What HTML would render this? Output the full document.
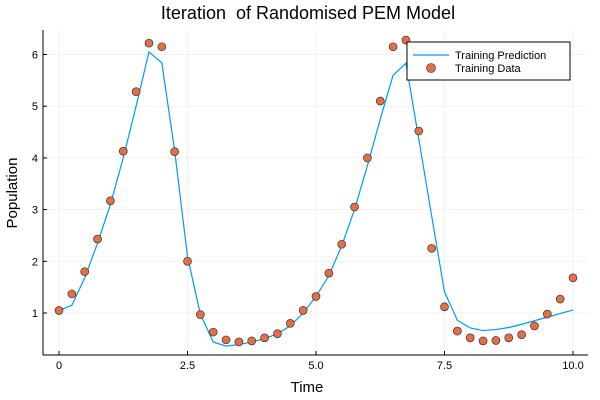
<!DOCTYPE html>
<html><head><meta charset="utf-8"><style>
body{margin:0;background:#fff;}
svg{display:block;font-family:"Liberation Sans","DejaVu Sans",sans-serif;}
</style></head><body>
<svg id="chart" width="600" height="400">
<text x="308" y="19" font-size="18" text-anchor="middle" fill="#000" style="white-space:pre">Iteration  of Randomised PEM Model</text>
<g id="grid"></g><g id="axes"></g><g id="series"></g>
<text x="307" y="392" font-size="15" text-anchor="middle">Time</text>
<text x="17" y="193" font-size="15" text-anchor="middle" transform="rotate(-90 17 193)">Population</text>
<g>
<rect x="407" y="42" width="163" height="38" fill="#fff" stroke="#000" stroke-width="1"/>
<line x1="413" y1="55" x2="449" y2="55" stroke="#009af9" stroke-width="1.2"/>
<text x="455" y="59" font-size="11">Training Prediction</text>
<circle cx="431" cy="68" r="4.5" fill="#e26f46" stroke="#222" stroke-width="0.6"/>
<text x="455" y="72" font-size="11">Training Data</text>
</g>
</svg>
<script>
const times=[0,0.25,0.5,0.75,1,1.25,1.5,1.75,2,2.25,2.5,2.75,3,3.25,3.5,3.75,4,4.25,4.5,4.75,5,5.25,5.5,5.75,6,6.25,6.5,6.75,7,7.25,7.5,7.75,8,8.25,8.5,8.75,9,9.25,9.5,9.75,10];
const dataValues=[1.05,1.37,1.8,2.43,3.17,4.13,5.28,6.22,6.15,4.12,2.0,0.97,0.63,0.48,0.44,0.46,0.52,0.6,0.8,1.05,1.32,1.77,2.33,3.05,4.0,5.1,6.15,6.28,4.52,2.25,1.12,0.65,0.52,0.46,0.47,0.52,0.58,0.75,0.98,1.27,1.68];
const predValues=[1.05,1.15,1.68,2.35,3.1,4.0,5.0,6.05,5.84,4.14,2.09,0.98,0.44,0.36,0.39,0.44,0.5,0.6,0.75,1.0,1.32,1.72,2.3,3.0,3.85,4.75,5.6,5.83,4.36,2.88,1.41,0.86,0.71,0.66,0.68,0.72,0.78,0.85,0.92,0.99,1.06];
const xTicks=[0,2.5,5,7.5,10];
const xTickLabels=["0","2.5","5.0","7.5","10.0"];
const yTicks=[1,2,3,4,5,6];
const yTickLabels=["1","2","3","4","5","6"];
const X0=43,X1=588,Y0=355,Y1=30;
const xs=t=>59+t*51.4;
const ys=v=>313-(v-1)*51.7;
const NS="http://www.w3.org/2000/svg";
function mk(tag,attrs,parent){const e=document.createElementNS(NS,tag);for(const k in attrs)e.setAttribute(k,attrs[k]);parent.appendChild(e);return e;}
const grid=document.getElementById('grid'),axes=document.getElementById('axes'),series=document.getElementById('series');
xTicks.forEach((t,i)=>{
 const g=mk('line',{x1:xs(t),x2:xs(t),y1:Y1,y2:Y0,stroke:'#000','stroke-opacity':0.1,'stroke-width':0.5},grid);
 
 
 const tk=mk('line',{x1:xs(t),x2:xs(t),y1:Y0,y2:Y0-4,stroke:'#000','stroke-width':1},axes);
 
 
 const l=mk('text',{x:xs(t),y:Y0+14,'font-size':11,'text-anchor':'middle'},axes);
 l.textContent=xTickLabels[i];
 
 
});
yTicks.forEach((v,i)=>{
 const g=mk('line',{x1:X0,x2:X1,y1:ys(v),y2:ys(v),stroke:'#000','stroke-opacity':0.1,'stroke-width':0.5},grid);
 
 
 const tk=mk('line',{x1:X0,x2:X0+4,y1:ys(v),y2:ys(v),stroke:'#000','stroke-width':1},axes);
 
 
 const l=mk('text',{x:X0-5,y:ys(v)+4,'font-size':11,'text-anchor':'end'},axes);
 l.textContent=yTickLabels[i];
 
 
});
const xa=mk('line',{x1:X0,x2:X1,y1:Y0,y2:Y0,stroke:'#000','stroke-width':1},axes);


const ya=mk('line',{x1:X0,x2:X0,y1:Y1,y2:Y0,stroke:'#000','stroke-width':1},axes);


const line=mk('polyline',{points:times.map((t,i)=>xs(t)+','+ys(predValues[i])).join(' '),fill:'none',stroke:'#009af9','stroke-width':1.2},series);


times.forEach((t,i)=>{
 const c=mk('circle',{cx:xs(t),cy:ys(dataValues[i]),r:4,fill:'#e26f46',stroke:'#222','stroke-width':0.6},series);
 
 
});
</script>
</body></html>
